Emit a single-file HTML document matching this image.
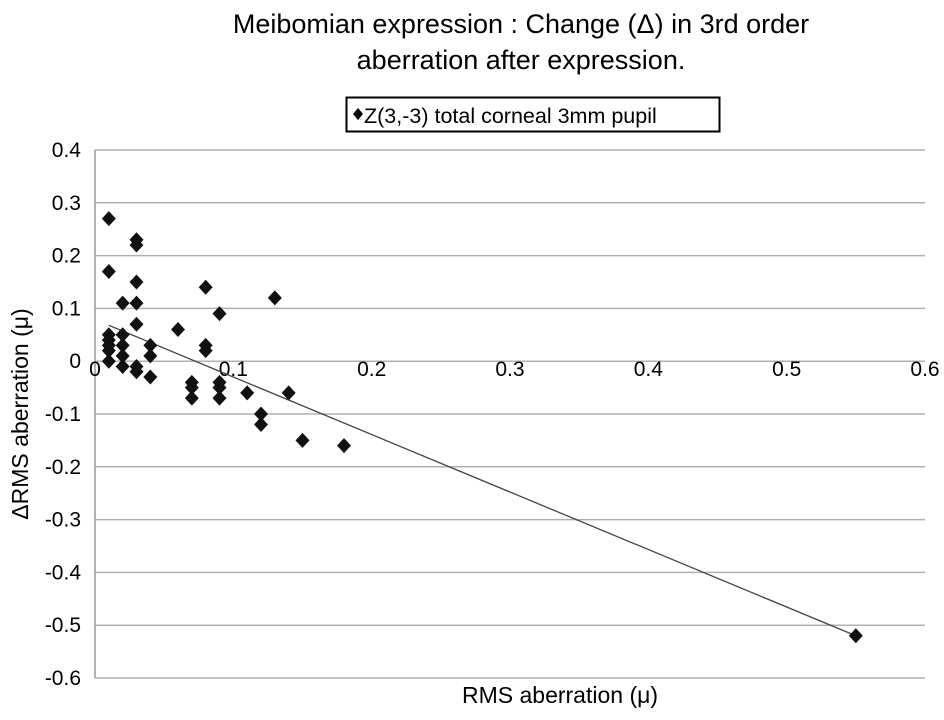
<!DOCTYPE html>
<html><head><meta charset="utf-8"><style>
body{margin:0;background:#fff;width:944px;height:715px;overflow:hidden;font-family:"Liberation Sans",sans-serif}
</style></head><body>
<svg id="chart" width="944" height="715" font-family="Liberation Sans, sans-serif">
<text x="521" y="33" font-size="27" text-anchor="middle">Meibomian expression : Change (Δ) in 3rd order</text>
<text x="521" y="69" font-size="27" text-anchor="middle">aberration after expression.</text>
<g>
<rect x="346.5" y="97.5" width="373" height="34" fill="#fff" stroke="#000" stroke-width="2"/>
<path d="M358 108 l5 6 l-5 6 l-5 -6z" fill="#000"/>
<text x="364" y="123" font-size="21.5">Z(3,-3) total corneal 3mm pupil</text>
</g>
<g id="grid"></g><g id="axes"></g><g id="marks"></g>
<text x="560" y="703" font-size="23" text-anchor="middle">RMS aberration (μ)</text>
<text transform="translate(28,414) rotate(-90)" font-size="23" text-anchor="middle">ΔRMS aberration (μ)</text>
</svg>
<script>
const xTicks=[0,0.1,0.2,0.3,0.4,0.5,0.6];
const yTicks=[0.4,0.3,0.2,0.1,0,-0.1,-0.2,-0.3,-0.4,-0.5,-0.6];
const xTickLabels=["0","0.1","0.2","0.3","0.4","0.5","0.6"];
const yTickLabels=["0.4","0.3","0.2","0.1","0","-0.1","-0.2","-0.3","-0.4","-0.5","-0.6"];
const xValues=[0.01,0.03,0.03,0.01,0.03,0.02,0.03,0.03,0.08,0.06,0.09,0.13,0.08,0.08,0.01,0.01,0.01,0.01,0.01,0.02,0.02,0.02,0.02,0.03,0.03,0.04,0.04,0.04,0.07,0.07,0.07,0.09,0.09,0.09,0.11,0.14,0.12,0.12,0.15,0.18,0.55];
const yValues=[0.27,0.23,0.22,0.17,0.15,0.11,0.11,0.07,0.14,0.06,0.09,0.12,0.03,0.02,0.05,0.04,0.03,0.02,0,0.05,0.03,0.01,-0.01,-0.01,-0.02,0.03,0.01,-0.03,-0.04,-0.05,-0.07,-0.04,-0.05,-0.07,-0.06,-0.06,-0.10,-0.12,-0.15,-0.16,-0.52];
const trendStart=[0.01,0.068];
const trendEnd=[0.55,-0.52];
const NS="http://www.w3.org/2000/svg";
const X0=95,X1=925,Y0=150,Y1=678;
const sx=v=>X0+(v-0)/(0.6)*(X1-X0);
const sy=v=>Y0+(0.4-v)/(1.0)*(Y1-Y0);
function mk(t,a,p){const e=document.createElementNS(NS,t);for(const k in a)e.setAttribute(k,a[k]);p.appendChild(e);return e;}
const grid=document.getElementById('grid'),axes=document.getElementById('axes'),marks=document.getElementById('marks');
yTicks.forEach((v,i)=>{
 const l=mk('line',{x1:X0,x2:X1,y1:sy(v),y2:sy(v),stroke:'#b0b0b0','stroke-width':1.5},grid);
 
 
 const t=mk('text',{x:81,y:sy(v)+7,'font-size':21,'text-anchor':'end'},axes);
 t.textContent=yTickLabels[i];
 
 
});
const ya=mk('line',{x1:X0,x2:X0,y1:Y0,y2:Y1,stroke:'#999','stroke-width':1.5},axes);


xTicks.forEach((v,i)=>{
 const t=mk('text',{x:sx(v),y:sy(0)+15,'font-size':21,'text-anchor':'middle'},axes);
 t.textContent=xTickLabels[i];
 
 
});
const tl=mk('line',{x1:sx(trendStart[0]),y1:sy(trendStart[1]),x2:sx(trendEnd[0]),y2:sy(trendEnd[1]),stroke:'#444','stroke-width':1.3},marks);


xValues.forEach((x,i)=>{
 const cx=sx(x),cy=sy(yValues[i]);
 const p=mk('path',{d:`M${cx} ${cy-7.5} L${cx+7} ${cy} L${cx} ${cy+7.5} L${cx-7} ${cy}Z`,fill:'#111'},marks);
 
 
});
</script>
</body></html>
